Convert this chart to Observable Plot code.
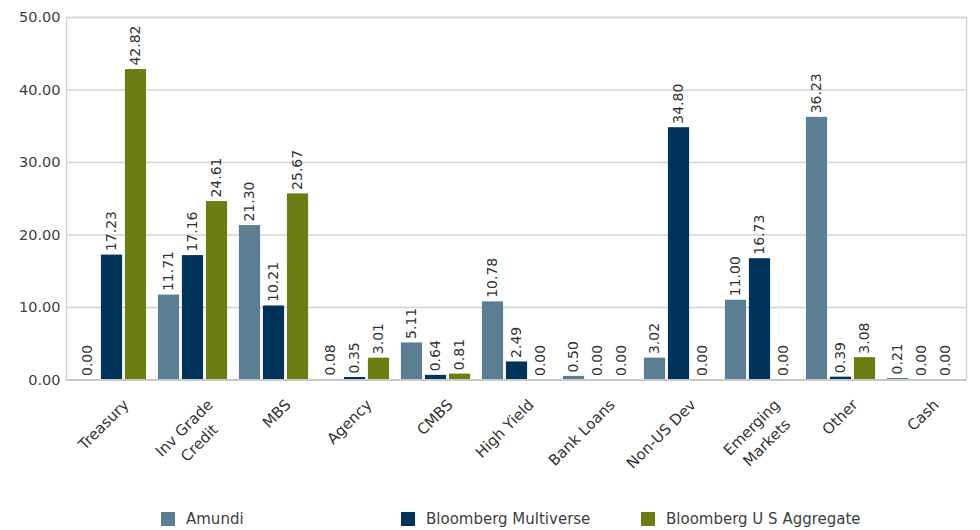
<!DOCTYPE html>
<html><head><meta charset="utf-8">
<script src="https://cdn.jsdelivr.net/npm/d3@7"></script>
<script src="https://cdn.jsdelivr.net/npm/@observablehq/plot@0.6"></script>
<style>
body{margin:0;background:#fff;font-family:"DejaVu Sans",sans-serif;}
#wrap{position:relative;width:980px;height:530px;overflow:hidden;}
#legend{position:relative;width:980px;height:30px;}
.sw{position:absolute;top:12px;width:14px;height:14px;}
.lt{position:absolute;top:10px;font-size:15px;line-height:18px;color:#404040;white-space:nowrap;}
</style></head><body>
<div id="wrap"><div id="chart"></div><div id="legend"></div></div>
<script>
const categories = ["Treasury","Inv Grade Credit","MBS","Agency","CMBS","High Yield","Bank Loans","Non-US Dev","Emerging Markets","Other","Cash"];
const categoryLabels = ["Treasury","Inv Grade\nCredit","MBS","Agency","CMBS","High Yield","Bank Loans","Non-US Dev","Emerging\nMarkets","Other","Cash"];
const seriesNames = ["Amundi","Bloomberg Multiverse","Bloomberg U S Aggregate"];
const seriesColors = ["#5b7e93","#003359","#6b7d13"];
const amundi =     [0.00, 11.71, 21.30, 0.08, 5.11, 10.78, 0.50, 3.02, 11.00, 36.23, 0.21];
const multiverse = [17.23, 17.16, 10.21, 0.35, 0.64, 2.49, 0.00, 34.80, 16.73, 0.39, 0.00];
const aggregate =  [42.82, 24.61, 25.67, 3.01, 0.81, 0.00, 0.00, 0.00, 0.00, 3.08, 0.00];
const yTicks = [0, 10, 20, 30, 40, 50];

const seriesValues = [amundi, multiverse, aggregate];
const rows = [];
seriesValues.forEach((vals, s) => vals.forEach((v, i) => rows.push({category: categories[i], series: seriesNames[s], s, value: v})));

const W = 980, H = 500, mL = 66, mR = 14, mT = 17, mB = 120.5;
const band = (W - mL - mR) / categories.length;
const barW = 22, step = 24;
const inset = (band - barW) / 2;
const offsets = [-step, 0, step];
const FONT = "DejaVu Sans, sans-serif";
const labelSize = 15;

// measure label widths to center multi-line rotated labels like the reference
const ctx = document.createElement("canvas").getContext("2d");
ctx.font = `${labelSize}px "DejaVu Sans"`;

const marks = [
  Plot.ruleY(yTicks, {stroke: "#d4d4d4", strokeWidth: 1.5}),
  Plot.frame({stroke: "#d4d4d4", strokeWidth: 1.5})
];
seriesNames.forEach((name, s) => {
  const data = rows.filter(d => d.s === s);
  marks.push(Plot.barY(data, {x: "category", y: "value", fill: seriesColors[s], dx: offsets[s], insetLeft: inset, insetRight: inset}));
});
marks.push(Plot.ruleY([0], {stroke: "#c8c8c8", strokeWidth: 2}));
seriesNames.forEach((name, s) => {
  const data = rows.filter(d => d.s === s);
  marks.push(Plot.text(data, {x: "category", y: "value", text: d => d.value.toFixed(2), rotate: -90, textAnchor: "start", dx: offsets[s], dy: -4, fontSize: 14, fill: "#333"}));
});
categories.forEach((c, i) => {
  const lines = categoryLabels[i].split("\n");
  const w = Math.max(...lines.map(l => ctx.measureText(l).width));
  const k = Math.SQRT1_2 * w / 2;
  const extra = lines.length > 1 ? 3 : 0;
  marks.push(Plot.text([c], {x: d => d, frameAnchor: "bottom", text: () => categoryLabels[i], rotate: -45, textAnchor: "middle", lineAnchor: "top", lineHeight: 1.42, dx: 7 + extra - k, dy: 15 + k, fontSize: labelSize, fill: "#333"}));
});

const chart = Plot.plot({
  width: W, height: H,
  marginLeft: mL, marginRight: mR, marginTop: mT, marginBottom: mB,
  style: {fontFamily: FONT, fontSize: "14.5px", color: "#404040", background: "#fff"},
  x: {domain: categories, padding: 0, axis: null},
  y: {domain: [0, 50], ticks: 5, tickFormat: d => d.toFixed(2), tickSize: 0, tickPadding: 6, label: null},
  marks
});
document.getElementById("chart").appendChild(chart);

const legend = document.getElementById("legend");
const swX = [161, 401, 641];
seriesNames.forEach((name, s) => {
  const sw = document.createElement("div");
  sw.className = "sw"; sw.style.left = swX[s] + "px"; sw.style.background = seriesColors[s];
  const t = document.createElement("div");
  t.className = "lt"; t.style.left = (swX[s] + 25) + "px"; t.textContent = name;
  legend.appendChild(sw); legend.appendChild(t);
});
</script>
</body></html>
